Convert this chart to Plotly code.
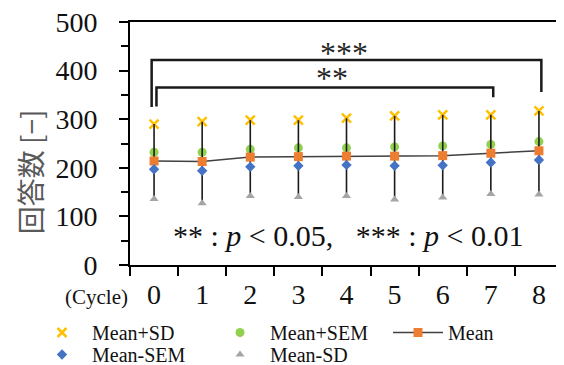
import plotly.graph_objects as go

cycles = ["0", "1", "2", "3", "4", "5", "6", "7", "8"]
mean_plus_sd = [290, 295, 298, 298, 302, 307, 309, 309, 317]
mean_plus_sem = [232, 232, 238, 241, 241, 243, 245, 248, 254]
mean = [214, 213, 222, 223, 224, 224, 225, 230, 235]
mean_minus_sem = [197, 194, 202, 204, 206, 204, 205, 211, 216]
mean_minus_sd = [136, 127, 142, 140, 142, 135, 139, 146, 145]

y_ticks = [0, 100, 200, 300, 400, 500]

# significance brackets
brackets_from = [0.05, -0.05]
brackets_to = [7.05, 8.05]
brackets_top = [365, 422]
brackets_left_end = [326, 325]
brackets_right_end = [345, 356]
brackets_label = ["**", "***"]
brackets_label_x = [3.7, 3.95]
brackets_label_y = [384, 437]

SERIF = "Liberation Serif, Times New Roman, serif"

fig = go.Figure()

err_plus = [a - b for a, b in zip(mean_plus_sd, mean)]
err_minus = [b - a for a, b in zip(mean_minus_sd, mean)]

fig.add_trace(go.Scatter(
    x=cycles, y=mean_plus_sd, name="Mean+SD", mode="markers", legend="legend",
    marker=dict(symbol="x-thin", size=9, color="#FFC000",
                line=dict(width=2.5, color="#FFC000")),
))
fig.add_trace(go.Scatter(
    x=cycles, y=mean_plus_sem, name="Mean+SEM", mode="markers", legend="legend",
    marker=dict(symbol="circle", size=9, color="#92D050"),
))
fig.add_trace(go.Scatter(
    x=cycles, y=mean, name="Mean", mode="lines+markers", legend="legend",
    line=dict(color="#404040", width=1.5),
    marker=dict(symbol="square", size=9, color="#ED7D31"),
    error_y=dict(type="data", symmetric=False, array=err_plus,
                 arrayminus=err_minus, width=0, thickness=1.6,
                 color="#1a1a1a"),
))
fig.add_trace(go.Scatter(
    x=cycles, y=mean_minus_sem, name="Mean-SEM", mode="markers", legend="legend2",
    marker=dict(symbol="diamond", size=8, color="#4472C4"),
))
fig.add_trace(go.Scatter(
    x=cycles, y=mean_minus_sd, name="Mean-SD", mode="markers", legend="legend2",
    marker=dict(symbol="triangle-up", size=8, color="#A5A5A5"),
))

shapes = []
annotations = []
for x0, x1, top, le, re, lab, lx, ly in zip(brackets_from, brackets_to, brackets_top,
                                           brackets_left_end, brackets_right_end,
                                           brackets_label, brackets_label_x, brackets_label_y):
    shapes.append(dict(
        type="path", xref="x", yref="y",
        path=f"M {x0},{le} L {x0},{top} L {x1},{top} L {x1},{re}",
        line=dict(color="#1a1a1a", width=2.5),
    ))
    annotations.append(dict(
        x=lx, y=ly, xref="x", yref="y", text=lab, showarrow=False,
        xanchor="center", yanchor="middle",
        font=dict(family=SERIF, size=32, color="#262626"),
    ))

annotations.append(dict(
    x=4.04, y=60, xref="x", yref="y",
    text="** : <i>p</i> &lt; 0.05,&nbsp;&nbsp; *** : <i>p</i> &lt; 0.01",
    showarrow=False, xanchor="center", yanchor="middle",
    font=dict(family=SERIF, size=30, color="#111111"),
))
annotations.append(dict(
    x=(22 - 122) / 433, y=191, xref="paper", yref="y", text="回答数 [−]",
    textangle=-90, showarrow=False, xanchor="center", yanchor="middle",
    font=dict(family="Noto Sans CJK JP", size=28, color="#595959"),
))
annotations.append(dict(
    x=(88 - 122) / 433, y=(257 - 289) / 243, xref="paper", yref="paper",
    text="(Cycle)", showarrow=False, xanchor="center", yanchor="middle",
    font=dict(family=SERIF, size=21, color="#111111"),
))

legend_common = dict(
    orientation="h", x=-0.2263, xanchor="left", yanchor="top",
    xref="paper", yref="paper",
    entrywidth=113, entrywidthmode="pixels", itemwidth=50,
    font=dict(family=SERIF, size=20, color="#111111"),
    bgcolor="rgba(0,0,0,0)", traceorder="normal",
)

fig.update_layout(
    width=556, height=357,
    margin=dict(l=122, r=1, t=14, b=100, autoexpand=False),
    paper_bgcolor="white", plot_bgcolor="white",
    showlegend=True,
    legend=dict(legend_common, y=-0.1975),
    legend2=dict(legend_common, y=-0.288),
    xaxis=dict(
        type="category", range=[-0.5, 8.5], tickson="boundaries",
        ticks="outside", ticklen=9, tickwidth=1.5, tickcolor="black",
        showline=True, linecolor="black", linewidth=1.5, mirror=True,
        showgrid=False, zeroline=False, ticklabelstandoff=4,
        tickfont=dict(family=SERIF, size=28, color="#111111"),
    ),
    yaxis=dict(
        range=[0, 500], tickvals=y_ticks, ticktext=[str(v) for v in y_ticks],
        ticks="outside", ticklen=9, tickwidth=1.5, tickcolor="black",
        minor=dict(dtick=50, ticks="outside", ticklen=7, tickwidth=1.5,
                   tickcolor="black", showgrid=False),
        showline=True, linecolor="black", linewidth=1.8, mirror=True,
        showgrid=False, zeroline=False, ticklabelstandoff=16,
        ticklabeloverflow="allow",
        tickfont=dict(family=SERIF, size=28, color="#111111"),
    ),
    shapes=shapes, annotations=annotations,
)

fig.write_html("out.html")
